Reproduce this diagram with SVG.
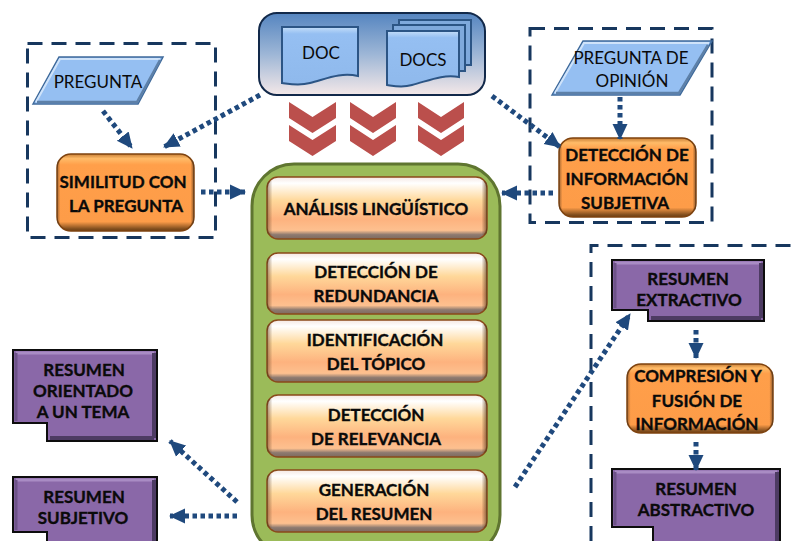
<svg xmlns="http://www.w3.org/2000/svg" width="792" height="541" viewBox="0 0 792 541">
<style>
text{font-family:"Lato","Carlito","Liberation Sans",sans-serif;fill:#0a0a0a;text-anchor:middle}
.b{font-weight:700;font-size:17px;stroke:#0a0a0a;stroke-width:.35}
.r{font-size:17px}
.dash{fill:none;stroke:#17375e;stroke-width:3;stroke-dasharray:15 9}
.con{fill:none;stroke:#1f497d;stroke-width:5;stroke-dasharray:4.500 3.500;marker-end:url(#ah)}
.or{fill:url(#og);stroke:#7f430f;stroke-width:1.5}
.card{fill:url(#cg);stroke:#8a4a1a;stroke-width:1.5}
.side{fill:url(#sg);stroke:none}
.pu{fill:#8a68a8;stroke:#0d0d0d;stroke-width:2}
.pl{fill:none;stroke:#a98cc4;stroke-width:3}
.pd{fill:none;stroke:#4d3b63;stroke-width:4}
.ps{fill:none;stroke:#6d5288;stroke-width:3}
.para{fill:#95bff2;stroke:#3f6a9b;stroke-width:1.5}
.doc{fill:#95bff2;stroke:#2c5585;stroke-width:2}
.back{fill:#7fa9dc;stroke:#2c5585;stroke-width:2}
.ch{fill:#bb4f4c}
</style>
<defs>
<marker id="ah" markerUnits="userSpaceOnUse" markerWidth="17" markerHeight="17" refX="15" refY="8.500" orient="auto"><path d="M0 1L16 8.500L0 16Z" fill="#1f497d"/></marker>
<linearGradient id="og" x1="0" y1="0" x2="0" y2="1"><stop offset="0" stop-color="#c87e35"/><stop offset=".06" stop-color="#ffbb68"/><stop offset=".14" stop-color="#ff9f4a"/><stop offset=".88" stop-color="#fd9c48"/><stop offset=".97" stop-color="#84501f"/><stop offset="1" stop-color="#6a3d14"/></linearGradient>
<linearGradient id="cg" x1="0" y1="0" x2="0" y2="1"><stop offset="0" stop-color="#f4e7e2"/><stop offset=".1" stop-color="#ffffff"/><stop offset=".38" stop-color="#ffd89a"/><stop offset=".68" stop-color="#fdb27e"/><stop offset=".86" stop-color="#fdc08f"/><stop offset=".93" stop-color="#8d7a70"/><stop offset="1" stop-color="#7e6a5e"/></linearGradient>
<linearGradient id="sg" x1="0" y1="0" x2="1" y2="0"><stop offset="0" stop-color="#5a3a1e" stop-opacity=".55"/><stop offset=".025" stop-color="#5a3a1e" stop-opacity="0"/><stop offset=".975" stop-color="#5a3a1e" stop-opacity="0"/><stop offset="1" stop-color="#5a3a1e" stop-opacity=".7"/></linearGradient>
<linearGradient id="cont" x1="0" y1="0" x2="0" y2="1"><stop offset="0" stop-color="#5585c0"/><stop offset=".5" stop-color="#9db6d6"/><stop offset="1" stop-color="#f4e8e8"/></linearGradient>
<linearGradient id="dg" x1="0" y1="0" x2="0" y2="1"><stop offset="0" stop-color="#c4def9"/><stop offset=".12" stop-color="#95bff2"/><stop offset="1" stop-color="#8fb9ec"/></linearGradient>
</defs>

<g id="frames">
<rect class="dash" x="27.500" y="43.500" width="188" height="194"/>
<rect class="dash" x="530" y="28.500" width="182" height="194"/>
<path class="dash" d="M591 541V245.500H792"/>
</g>

<g id="documents">
<rect x="259" y="13" width="226" height="82" rx="18" fill="url(#cont)" stroke="#12294a" stroke-width="2"/>
<g id="doc">
<path class="doc" style="fill:url(#dg)" d="M282 27H358V76C340 72 326 79 310 83C299 86 290 84 282 83Z"/>
<text class="r" x="321" y="59">DOC</text>
</g>
<g id="docs">
<path class="back" d="M399 20H471V65H465V25H399Z"/>
<path class="back" d="M393 25H465V71H459V31H393Z"/>
<path class="doc" style="fill:url(#dg)" d="M387 31H459V77C442 74 428 81 412 85C402 88 394 86 387 85Z"/>
<text class="r" x="423" y="66">DOCS</text>
</g>
</g>

<g id="chevrons">
<path class="ch" d="M289 102L312.500 117L336 102V118L312.500 133L289 118Z"/>
<path class="ch" d="M289 125L312.500 140L336 125V141L312.500 156L289 141Z"/>
<path class="ch" d="M350 102L373 117L396 102V118L373 133L350 118Z"/>
<path class="ch" d="M350 125L373 140L396 125V141L373 156L350 141Z"/>
<path class="ch" d="M418 102L441 117L464 102V118L441 133L418 118Z"/>
<path class="ch" d="M418 125L441 140L464 125V141L441 156L418 141Z"/>
</g>

<g id="pipeline">
<rect x="252" y="164" width="248" height="393" rx="42" fill="#9bbb59" stroke="#5f7530" stroke-width="3"/>
<g id="analisis"><rect class="card" x="267" y="177" width="220" height="62" rx="11"/><rect class="side" x="267" y="181" width="220" height="54" rx="4"/><text class="b" x="376" y="215">ANÁLISIS LINGÜÍSTICO</text></g>
<g id="redundancia"><rect class="card" x="267" y="253" width="220" height="61" rx="11"/><rect class="side" x="267" y="257" width="220" height="53" rx="4"/><text class="b" x="376" y="278">DETECCIÓN DE</text><text class="b" x="376" y="302">REDUNDANCIA</text></g>
<g id="topico"><rect class="card" x="267" y="320" width="220" height="62" rx="11"/><rect class="side" x="267" y="324" width="220" height="54" rx="4"/><text class="b" x="375" y="346">IDENTIFICACIÓN</text><text class="b" x="376" y="370">DEL TÓPICO</text></g>
<g id="relevancia"><rect class="card" x="267" y="395" width="220" height="62" rx="11"/><rect class="side" x="267" y="399" width="220" height="54" rx="4"/><text class="b" x="376" y="421">DETECCIÓN</text><text class="b" x="376" y="445">DE RELEVANCIA</text></g>
<g id="generacion"><rect class="card" x="267" y="470" width="220" height="62" rx="11"/><rect class="side" x="267" y="474" width="220" height="54" rx="4"/><text class="b" x="374" y="496">GENERACIÓN</text><text class="b" x="374" y="520">DEL RESUMEN</text></g>
</g>

<g id="pregunta">
<path class="para" d="M33 104L59 57H163L138 104Z"/>
<path d="M36 102L60 59H160" fill="none" stroke="#cfe3fa" stroke-width="2"/>
<path d="M37 102H137L160 60" fill="none" stroke="#5d80a8" stroke-width="2.500"/>
<text class="r" x="98" y="88">PREGUNTA</text>
</g>
<g id="similitud">
<rect class="or" x="57" y="154" width="137" height="77" rx="14"/>
<rect class="side" x="57" y="160" width="137" height="65" rx="4"/>
<text class="b" x="123" y="188">SIMILITUD CON</text><text class="b" x="126" y="212">LA PREGUNTA</text>
</g>
<g id="opinion">
<path class="para" d="M552 95L583 41H712L680 95Z"/>
<path d="M555 93L584 43H709" fill="none" stroke="#cfe3fa" stroke-width="2"/>
<path d="M556 93H679L708 45" fill="none" stroke="#5d80a8" stroke-width="2.500"/>
<text class="r" x="631" y="64">PREGUNTA DE</text><text class="r" x="632" y="87">OPINIÓN</text>
</g>
<g id="subjetiva">
<rect class="or" x="559" y="138" width="137" height="79" rx="14"/>
<rect class="side" x="559" y="144" width="137" height="67" rx="4"/>
<text class="b" x="627" y="161">DETECCIÓN DE</text><text class="b" x="627" y="185">INFORMACIÓN</text><text class="b" x="625" y="209">SUBJETIVA</text>
</g>

<g id="orientado">
<path class="pu" d="M13 350H157V441H47V423H13Z"/>
<path class="pl" d="M16 353H154"/>
<path class="ps" d="M16 353V421"/>
<path class="pd" d="M154 353V438M50 438H154"/>
<text class="b" x="84" y="376">RESUMEN</text><text class="b" x="83" y="397">ORIENTADO</text><text class="b" x="83" y="418">A UN TEMA</text>
</g>
<g id="subjetivo">
<path class="pu" d="M13 477H157V550H47V532H13Z"/>
<path class="pl" d="M16 480H154"/>
<path class="ps" d="M16 480V530"/>
<path class="pd" d="M154 480V550"/>
<text class="b" x="84" y="503">RESUMEN</text><text class="b" x="83" y="524">SUBJETIVO</text>
</g>
<g id="extractivo">
<path class="pu" d="M612 260H764V321H648V310H612Z"/>
<path class="pl" d="M615 263H761"/>
<path class="ps" d="M615 263V308"/>
<path class="pd" d="M761 263V318M651 318H761"/>
<text class="b" x="688" y="285">RESUMEN</text><text class="b" x="689" y="306">EXTRACTIVO</text>
</g>
<g id="compresion">
<rect class="or" x="627" y="364" width="146" height="69" rx="14"/>
<rect class="side" x="627" y="370" width="146" height="57" rx="4"/>
<text class="b" x="698" y="382">COMPRESIÓN Y</text><text class="b" x="697" y="407">FUSIÓN DE</text><text class="b" x="697" y="430">INFORMACIÓN</text>
</g>
<g id="abstractivo">
<path class="pu" d="M612 469H780V550H653V527H612Z"/>
<path class="pl" d="M615 472H777"/>
<path class="ps" d="M615 472V525"/>
<path class="pd" d="M777 472V550"/>
<text class="b" x="696" y="495">RESUMEN</text><text class="b" x="696" y="516">ABSTRACTIVO</text>
</g>

<g id="connectors">
<path class="con" d="M103 111L132 148"/>
<path class="con" d="M260 95L164 147"/>
<path class="con" d="M201 192H245"/>
<path class="con" d="M492 96L560 147"/>
<path class="con" d="M620 97V139"/>
<path class="con" d="M553 193H502"/>
<path class="con" d="M515 487L630 314"/>
<path class="con" d="M696 330V358"/>
<path class="con" d="M696 442V470"/>
<path class="con" d="M237 502L170 441"/>
<path class="con" d="M237 516H170"/>
</g>
</svg>
